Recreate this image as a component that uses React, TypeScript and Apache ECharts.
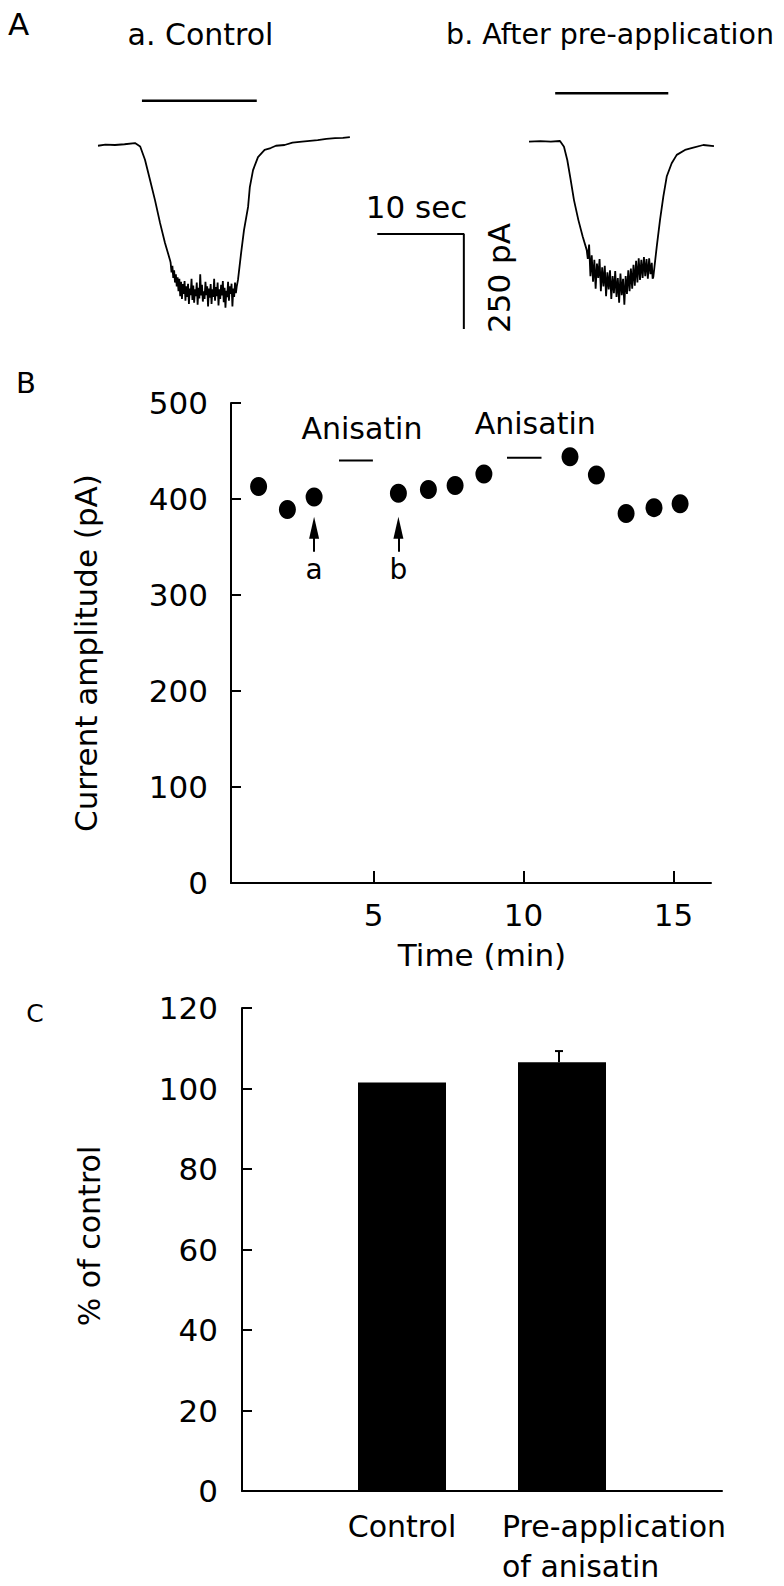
import React, { useEffect, useRef } from 'react';
import * as echarts from 'echarts';

const FONT = '"DejaVu Sans", sans-serif';

// ---------- Panel A : current traces (time in s, current in pA) ----------
const controlTrace: [number, number][] = [
  [1.15, -2], [2.0, 1], [3.1, 0], [4.2, 2], [5.4, 5], [6.0, -4], [6.55, -39], [7.13, -92], [7.7, -145],
  [8.28, -205], [8.85, -258], [9.43, -303],
  [9.5, -310], [9.6, -335], [9.7, -318], [9.8, -350], [9.9, -330], [10.0, -362], [10.1, -340], [10.2, -372],
  [10.3, -348], [10.4, -385], [10.5, -352], [10.6, -398], [10.7, -360], [10.8, -405], [10.9, -366], [11.0, -392],
  [11.1, -358], [11.2, -410], [11.3, -372], [11.4, -400], [11.5, -365], [11.6, -418], [11.7, -378], [11.8, -395],
  [11.9, -352], [12.0, -408], [12.1, -370], [12.2, -415], [12.3, -380], [12.4, -398], [12.5, -362], [12.6, -420],
  [12.7, -376], [12.8, -404], [12.9, -340], [13.0, -396], [13.1, -368], [13.2, -412], [13.3, -385], [13.4, -405],
  [13.5, -360], [13.6, -395], [13.7, -372], [13.8, -425], [13.9, -378], [14.0, -402], [14.1, -366], [14.2, -418],
  [14.3, -380], [14.4, -400], [14.5, -352], [14.6, -410], [14.7, -374], [14.8, -398], [14.9, -362], [15.0, -422],
  [15.1, -380], [15.2, -405], [15.3, -368], [15.4, -396], [15.5, -358], [15.6, -414], [15.7, -376], [15.8, -428],
  [15.9, -384], [16.0, -400], [16.1, -360], [16.2, -410], [16.3, -372], [16.4, -392], [16.5, -365], [16.6, -425],
  [16.7, -378], [16.8, -400], [16.9, -362], [17.0, -390], [17.1, -372], [17.24, -355],
  [17.6, -284], [17.93, -224], [18.4, -163], [18.6, -111], [18.97, -66], [19.54, -32], [20.3, -13], [21.0, -8],
  [21.6, -2], [22.6, 0], [23.5, 6], [24.6, 9], [25.5, 11], [26.4, 13], [27.4, 16], [28.4, 18], [29.3, 19], [30.1, 21],
];

const afterTrace: [number, number][] = [
  [50.69, 8.7], [52.0, 10], [53.2, 9], [54.25, 10.5], [54.71, -4.5], [55.09, -39.5], [55.48, -92], [55.86, -145],
  [56.36, -197], [56.86, -241], [57.32, -276],
  [57.45, -300], [57.6, -262], [57.75, -345], [57.9, -290], [58.05, -360], [58.2, -302], [58.35, -378],
  [58.5, -312], [58.65, -350], [58.8, -300], [58.95, -385], [59.1, -322], [59.25, -372], [59.4, -318],
  [59.55, -398], [59.7, -335], [59.85, -380], [60.0, -330], [60.15, -405], [60.3, -345], [60.45, -390],
  [60.6, -332], [60.75, -400], [60.9, -350], [61.05, -415], [61.2, -338], [61.35, -395], [61.5, -352],
  [61.65, -420], [61.8, -345], [61.95, -392], [62.1, -330], [62.25, -385], [62.4, -325], [62.55, -378],
  [62.7, -315], [62.85, -370], [63.0, -305], [63.15, -362], [63.3, -298], [63.45, -355], [63.6, -302],
  [63.75, -350], [63.9, -295], [64.05, -345], [64.2, -300], [64.35, -352], [64.5, -298], [64.65, -340],
  [64.8, -310], [64.9, -352],
  [64.98, -347], [65.37, -268], [65.75, -197], [66.13, -136], [66.52, -83], [67.09, -48], [67.67, -26],
  [68.62, -13], [69.57, -7], [70.72, 0], [71.95, -3],
];

const controlBar: [number, number][] = [[6.2, 116.6], [19.4, 116.6]];
const afterBar: [number, number][] = [[53.7, 136], [66.7, 136]];
const scaleBar: [number, number][] = [[33.25, -234], [43.2, -234], [43.2, -484]];

// ---------- Panel B : amplitude vs time ----------
const timeMin = [1.17, 2.13, 3.02, 5.83, 6.83, 7.72, 8.68, 11.55, 12.43, 13.42, 14.35, 15.22];
const amplitude = [413, 389, 402, 406, 410, 414, 426, 444, 425, 385, 391, 395];
const anisatinPeriods: [number, number, number][] = [[3.85, 4.98, 440], [9.45, 10.6, 443]];
const markedPoints: [string, number][] = [['a', 2], ['b', 3]];
const xTicksB = [5, 10, 15];

// ---------- Panel C : % of control ----------
const categoriesC = ['', 'Control', 'Pre-application\nof anisatin', ''];
const percentValues: (number | string)[] = ['-', 101.5, 106.5, '-'];
const percentErr = [0, 0, 2.8, 0];

export default function App() {
  const ref = useRef<HTMLDivElement>(null);

  useEffect(() => {
    document.body.style.margin = '0';
    if (!ref.current) return;
    const chart = echarts.init(ref.current, null, { renderer: 'svg' });

    const txt = (text: string, x: number, y: number, size: number, rotation = 0) => ({
      type: 'text',
      x,
      y,
      rotation,
      style: {
        text,
        fontSize: size,
        fontFamily: FONT,
        fill: '#000',
        align: 'center',
        verticalAlign: 'middle',
      },
    });

    const axisText = { color: '#000', fontFamily: FONT, fontSize: 31 };
    const blackLine = { color: '#000', width: 2 };

    const option: any = {
      animation: false,
      backgroundColor: '#fff',
      grid: [
        { left: 88, top: 38.6, width: 696, height: 304 },
        { left: 231, top: 403, width: 480, height: 480 },
        { left: 242, top: 1008, width: 480, height: 483 },
      ],
      xAxis: [
        { gridIndex: 0, type: 'value', min: 0, max: 80, show: false },
        {
          gridIndex: 1,
          type: 'value',
          min: 0.25,
          max: 16.25,
          name: 'Time (min)',
          nameLocation: 'middle',
          nameGap: 56,
          nameTextStyle: { ...axisText, padding: [0, 0, 0, 22] },
          axisLine: { lineStyle: blackLine },
          axisTick: { inside: true, length: 12, lineStyle: blackLine, customValues: xTicksB },
          axisLabel: { ...axisText, margin: 16, customValues: xTicksB },
          splitLine: { show: false },
        },
        {
          gridIndex: 2,
          type: 'category',
          data: categoriesC,
          boundaryGap: false,
          axisLine: { lineStyle: blackLine },
          axisTick: { show: false },
          axisLabel: {
            interval: 0,
            margin: 15,
            color: '#000',
            fontFamily: FONT,
            fontSize: 30,
            formatter: (v: string) => {
              if (!v) return '';
              const key = v.indexOf('\n') >= 0 ? 'p' : 'c';
              return v
                .split('\n')
                .map((line) => `{${key}|${line}}`)
                .join('\n');
            },
            rich: {
              c: { fontSize: 30, lineHeight: 40, fontFamily: FONT, color: '#000' },
              p: {
                fontSize: 30,
                lineHeight: 40,
                fontFamily: FONT,
                color: '#000',
                align: 'left',
                padding: [0, 0, 0, 104],
              },
            },
          },
          splitLine: { show: false },
        },
      ],
      yAxis: [
        { gridIndex: 0, type: 'value', min: -520, max: 280, show: false },
        {
          gridIndex: 1,
          type: 'value',
          min: 0,
          max: 500,
          interval: 100,
          name: 'Current amplitude (pA)',
          nameLocation: 'middle',
          nameGap: 130,
          nameTextStyle: { ...axisText, padding: [0, 20, 0, 0] },
          axisLine: { show: true, lineStyle: blackLine },
          axisTick: { show: true, inside: true, length: 10, lineStyle: blackLine },
          axisLabel: { ...axisText, margin: 23 },
          splitLine: { show: false },
        },
        {
          gridIndex: 2,
          type: 'value',
          min: 0,
          max: 120,
          interval: 20,
          name: '% of control',
          nameLocation: 'middle',
          nameGap: 138,
          nameTextStyle: { ...axisText, fontSize: 30, padding: [0, 0, 0, 27] },
          axisLine: { show: true, lineStyle: blackLine },
          axisTick: { show: true, inside: true, length: 10, lineStyle: blackLine },
          axisLabel: { ...axisText, margin: 24 },
          splitLine: { show: false },
        },
      ],
      series: [
        // Panel A
        {
          type: 'line', xAxisIndex: 0, yAxisIndex: 0, data: controlTrace, showSymbol: false, symbol: 'none',
          lineStyle: { color: '#000', width: 1.8 }, silent: true,
        },
        {
          type: 'line', xAxisIndex: 0, yAxisIndex: 0, data: afterTrace, showSymbol: false, symbol: 'none',
          lineStyle: { color: '#000', width: 1.8 }, silent: true,
        },
        {
          type: 'line', xAxisIndex: 0, yAxisIndex: 0, data: controlBar, symbol: 'none',
          lineStyle: { color: '#000', width: 2.5 }, silent: true,
        },
        {
          type: 'line', xAxisIndex: 0, yAxisIndex: 0, data: afterBar, symbol: 'none',
          lineStyle: { color: '#000', width: 2.5 }, silent: true,
        },
        {
          type: 'line', xAxisIndex: 0, yAxisIndex: 0, data: scaleBar, symbol: 'none',
          lineStyle: { color: '#000', width: 2 }, silent: true,
        },
        // Panel B
        {
          type: 'scatter',
          xAxisIndex: 1,
          yAxisIndex: 1,
          data: timeMin.map((t, i) => [t, amplitude[i]]),
          symbol: 'circle',
          symbolSize: [17, 19],
          itemStyle: { color: '#000', opacity: 1 },
          silent: true,
          markLine: {
            silent: true,
            symbol: ['none', 'triangle'],
            symbolSize: [10, 22],
            lineStyle: { color: '#000', width: 2, type: 'solid', opacity: 1 },
            itemStyle: { color: '#000', opacity: 1 },
            label: {
              show: true,
              position: 'start',
              distance: 4,
              color: '#000',
              fontFamily: FONT,
              fontSize: 28,
            },
            data: markedPoints.map(([name, idx]) => [
              { coord: [timeMin[idx], 345], name, label: { formatter: name } },
              { coord: [timeMin[idx], 370] },
            ]),
          },
        },
        ...anisatinPeriods.map(([t0, t1, lvl]) => ({
          type: 'line',
          xAxisIndex: 1,
          yAxisIndex: 1,
          data: [[t0, lvl], [t1, lvl]],
          symbol: 'none',
          lineStyle: { color: '#000', width: 2 },
          silent: true,
        })),
        {
          type: 'scatter',
          xAxisIndex: 1,
          yAxisIndex: 1,
          symbolSize: 0,
          silent: true,
          itemStyle: { opacity: 1 },
          data: anisatinPeriods.map(([t0, t1, lvl], i) => ({
            value: [(t0 + t1) / 2, lvl],
            label: { offset: i === 0 ? [6, -32] : [11, -34] },
          })),
          label: {
            show: true,
            position: 'inside',
            formatter: 'Anisatin',
            color: '#000',
            opacity: 1,
            fontFamily: FONT,
            fontSize: 30,
          },
        },
        // Panel C
        {
          type: 'bar',
          xAxisIndex: 2,
          yAxisIndex: 2,
          data: percentValues,
          barWidth: 88,
          itemStyle: { color: '#000' },
          silent: true,
        },
        {
          type: 'custom',
          xAxisIndex: 2,
          yAxisIndex: 2,
          silent: true,
          data: percentValues
            .map((v, i) => [i, v, typeof v === 'number' ? v + percentErr[i] : v])
            .filter((d) => typeof d[1] === 'number' && percentErr[d[0] as number] > 0),
          encode: { x: 0, y: [1, 2] },
          renderItem: (_params: any, api: any) => {
            const base = api.coord([api.value(0), api.value(1)]);
            const top = api.coord([api.value(0), api.value(2)]);
            const style = { stroke: '#000', lineWidth: 2 };
            return {
              type: 'group',
              children: [
                { type: 'line', shape: { x1: base[0] - 3, y1: base[1], x2: top[0] - 3, y2: top[1] }, style },
                { type: 'line', shape: { x1: top[0] - 7, y1: top[1], x2: top[0] + 1, y2: top[1] }, style },
              ],
            };
          },
        },
      ],
      graphic: [
        txt('A', 18.5, 24, 31),
        txt('a. Control', 200.5, 34, 30),
        txt('b. After pre-application', 610, 34, 28.5),
        txt('10 sec', 416.5, 207, 31),
        txt('250 pA', 498.5, 278, 31, Math.PI / 2),
        txt('B', 26, 383, 29),
        txt('C', 35, 1013, 25),
      ],
    };

    chart.setOption(option);
    return () => chart.dispose();
  }, []);

  return <div ref={ref} style={{ width: 784, height: 1586 }} />;
}
